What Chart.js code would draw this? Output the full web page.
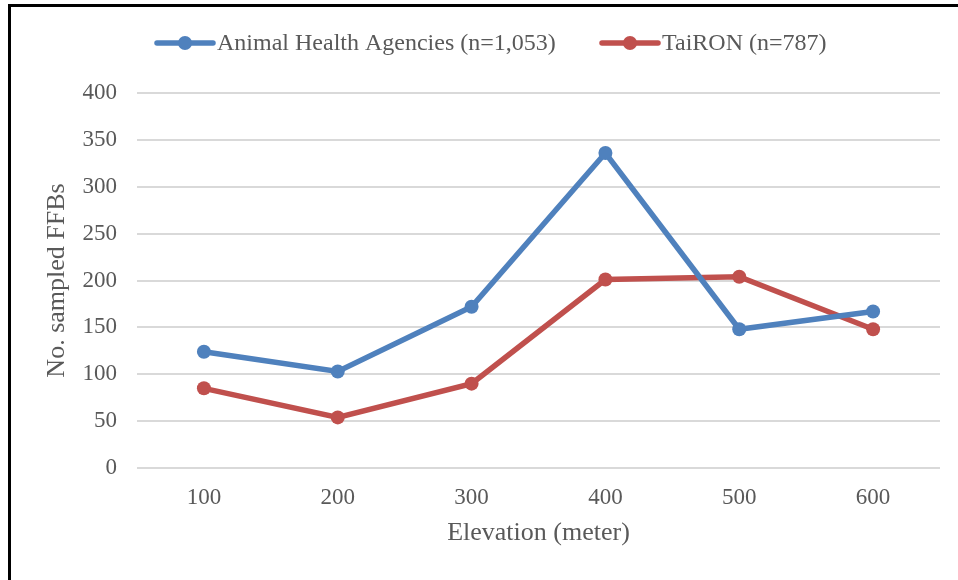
<!DOCTYPE html>
<html>
<head>
<meta charset="utf-8">
<script src="https://cdn.jsdelivr.net/npm/chart.js@4.4.1/dist/chart.umd.min.js"></script>
<style>
  html, body { margin: 0; padding: 0; background: #fff; }
  #wrap { position: relative; width: 958px; height: 580px; overflow: hidden; background: #fff; }
  #frame { position: absolute; left: 8px; top: 4px; width: 960px; height: 590px;
           border-top: 3px solid #000; border-left: 3px solid #000; pointer-events: none; }
  canvas { position: absolute; left: 0; top: 0; }
</style>
</head>
<body>
<div id="wrap">
  <canvas id="c" width="958" height="580"></canvas>
  <div id="frame"></div>
</div>
<script>
const categories = ['100', '200', '300', '400', '500', '600'];
const agenciesLabel = 'Animal Health Agencies (n=1,053)';
const taironLabel = 'TaiRON (n=787)';
const agencies = [124, 103, 172, 336, 148, 167];
const tairon = [85, 54, 90, 201, 204, 148];
const yMin = 0, yMax = 400, yStep = 50;
const xTitle = 'Elevation (meter)';
const yTitle = 'No. sampled FFBs';

const BLUE = '#4F81BD';
const RED = '#C0504D';
const TEXT = '#595959';
const GRID = '#D9D9D9';
const FONT = "'Liberation Serif', 'Times New Roman', serif";

// Legend drawn as a small plugin so the line+marker swatches and spacing match.
const lineLegend = {
  id: 'lineLegend',
  afterDraw(chart, args, opts) {
    const ctx = chart.ctx;
    ctx.save();
    ctx.font = opts.fontSize + 'px ' + FONT;
    ctx.textBaseline = 'middle';
    ctx.textAlign = 'left';
    chart.data.datasets.forEach((ds, i) => {
      const it = opts.items[i];
      const y = opts.y;
      ctx.strokeStyle = ds.borderColor;
      ctx.lineWidth = 5.5;
      ctx.lineCap = 'round';
      ctx.beginPath();
      ctx.moveTo(it.x0, y);
      ctx.lineTo(it.x0 + opts.lineLen, y);
      ctx.stroke();
      ctx.fillStyle = ds.borderColor;
      ctx.beginPath();
      ctx.arc(it.x0 + opts.lineLen / 2, y, 7, 0, Math.PI * 2);
      ctx.fill();
      ctx.fillStyle = TEXT;
      ctx.fillText(ds.label, it.x0 + opts.lineLen + 4, y + 1);
    });
    ctx.restore();
  }
};

const bg = {
  id: 'bg',
  beforeDraw(chart) {
    const ctx = chart.ctx;
    ctx.save();
    ctx.fillStyle = '#fff';
    ctx.fillRect(0, 0, chart.width, chart.height);
    ctx.restore();
  }
};

new Chart(document.getElementById('c'), {
  type: 'line',
  data: {
    labels: categories,
    datasets: [
      { label: agenciesLabel, data: agencies, borderColor: BLUE, backgroundColor: BLUE,
        borderWidth: 5.5, pointRadius: 7, pointHoverRadius: 7, pointBackgroundColor: BLUE,
        pointBorderColor: BLUE, pointBorderWidth: 0, tension: 0, fill: false },
      { label: taironLabel, data: tairon, borderColor: RED, backgroundColor: RED,
        borderWidth: 5.5, pointRadius: 7, pointHoverRadius: 7, pointBackgroundColor: RED,
        pointBorderColor: RED, pointBorderWidth: 0, tension: 0, fill: false }
    ]
  },
  options: {
    responsive: false,
    animation: false,
    events: [],
    layout: { padding: { top: 93, right: 18, left: 0, bottom: 0 } },
    plugins: {
      legend: { display: false },
      tooltip: { enabled: false },
      lineLegend: {
        fontSize: 24,
        y: 43,
        lineLen: 56,
        items: [{ x0: 157 }, { x0: 602 }]
      }
    },
    scales: {
      x: {
        offset: true,
        grid: { display: false, drawTicks: false },
        border: { display: false },
        ticks: { color: TEXT, font: { family: FONT, size: 23 }, padding: 16, maxRotation: 0 },
        title: { display: true, text: xTitle, color: TEXT,
                 font: { family: FONT, size: 26 }, padding: { top: 0, bottom: 31 } },
        afterFit(scale) { scale.height = 112; }
      },
      y: {
        min: yMin, max: yMax,
        ticks: { stepSize: yStep, color: TEXT, font: { family: FONT, size: 23 }, padding: 20 },
        grid: { color: GRID, lineWidth: 2, drawTicks: false },
        border: { display: false },
        title: { display: true, text: yTitle, color: TEXT,
                 font: { family: FONT, size: 26 }, padding: { top: 42, bottom: 0 } },
        afterFit(scale) { scale.width = 137; }
      }
    }
  },
  plugins: [bg, lineLegend]
});
</script>
</body>
</html>
